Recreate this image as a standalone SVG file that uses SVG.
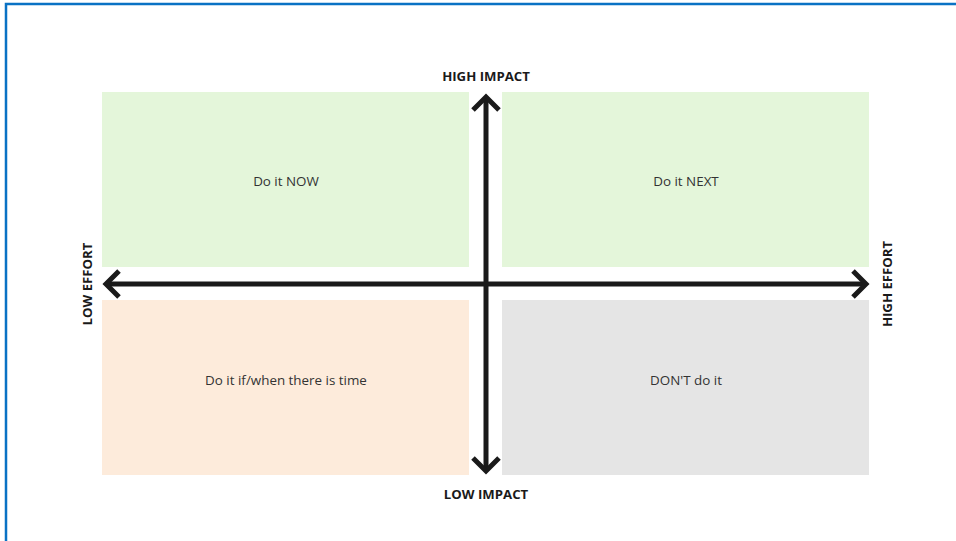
<svg xmlns="http://www.w3.org/2000/svg" width="956" height="541" viewBox="0 0 956 541">
  <style>
    .quad-text { font-family: "Open Sans", "Noto Sans", sans-serif; font-size: 13.4px; fill: #333333; text-anchor: middle; dominant-baseline: central; }
    .axis-label { font-family: "Open Sans", "Noto Sans", sans-serif; font-size: 13.2px; font-weight: 700; fill: #1a1a1a; text-anchor: middle; dominant-baseline: central; }
    .axis { stroke: #1a1a1a; stroke-width: 5; fill: none; }
    .head { stroke: #1a1a1a; stroke-width: 5; fill: none; stroke-linecap: butt; stroke-linejoin: miter; }
  </style>
  <rect x="0" y="0" width="956" height="541" fill="#ffffff"/>
  <!-- frame -->
  <rect x="6" y="4" width="980" height="560" fill="none" stroke="#0a72c4" stroke-width="2.5"/>

  <g id="do-now">
    <rect x="102" y="92" width="367" height="175" fill="#e4f6da"/>
    <text class="quad-text" x="286" y="181">Do it NOW</text>
  </g>
  <g id="do-next">
    <rect x="502" y="92" width="367" height="175" fill="#e4f6da"/>
    <text class="quad-text" x="686" y="181">Do it NEXT</text>
  </g>
  <g id="do-if-time">
    <rect x="102" y="300" width="367" height="175" fill="#fdebdb"/>
    <text class="quad-text" x="286" y="380">Do it if/when there is time</text>
  </g>
  <g id="dont-do">
    <rect x="502" y="300" width="367" height="175" fill="#e5e5e5"/>
    <text class="quad-text" x="686" y="380">DON'T do it</text>
  </g>

  <g id="connectors">
    <line class="axis" x1="486" y1="97" x2="486" y2="471"/>
    <line class="axis" x1="106" y1="284" x2="866" y2="284"/>
    <polyline class="head" points="473,110 486,97 499,110"/>
    <polyline class="head" points="473,458 486,471 499,458"/>
    <polyline class="head" points="119,271 106,284 119,297"/>
    <polyline class="head" points="853,271 866,284 853,297"/>
  </g>

  <g id="labels">
    <text class="axis-label" x="486" y="76">HIGH IMPACT</text>
    <text class="axis-label" x="486" y="494">LOW IMPACT</text>
    <text class="axis-label" transform="translate(87,284) rotate(-90)">LOW EFFORT</text>
    <text class="axis-label" transform="translate(887,284) rotate(-90)">HIGH EFFORT</text>
  </g>
</svg>
